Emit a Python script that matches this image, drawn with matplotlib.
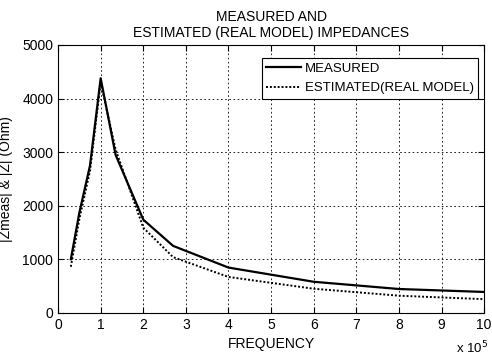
import matplotlib
matplotlib.use("Agg")
import matplotlib.pyplot as plt

plt.rcParams['font.family'] = ['Liberation Sans', 'DejaVu Sans']

freq_meas = [0.3, 0.5, 0.75, 1.0, 1.35, 2.0, 2.7, 4.0, 6.0, 8.0, 10.0]
z_meas = [1000, 1870, 2750, 4380, 2950, 1740, 1250, 845, 580, 445, 390]
freq_est = [0.3, 0.5, 0.75, 1.0, 1.35, 2.0, 2.7, 4.0, 6.0, 8.0, 10.0]
z_est = [860, 1750, 2650, 4300, 3050, 1590, 1040, 670, 450, 320, 255]
xticks = list(range(0, 11))
yticks = [0, 1000, 2000, 3000, 4000, 5000]

fig = plt.figure(figsize=(4.92, 3.6), dpi=100)
ax = fig.add_axes([0.118, 0.131, 0.866, 0.744])
ax.plot(freq_meas, z_meas, color='black', lw=1.6, label='MEASURED')
ax.plot(freq_est, z_est, color='black', lw=1.4, linestyle=(0, (1, 1)), label='ESTIMATED(REAL MODEL)')
ax.set_xlim(0, 10)
ax.set_ylim(0, 5000)
ax.set_xticks(xticks)
ax.set_yticks(yticks)
ax.tick_params(direction='in', labelsize=10, length=4, top=True, right=True)
ax.grid(True, color='black', linestyle=(0, (2, 3)), lw=0.6)
for s in ax.spines.values():
    s.set_linewidth(0.8)
ax.set_xlabel('FREQUENCY', fontsize=10, labelpad=4)
ax.set_ylabel('|Zmeas| & |Z| (Ohm)', fontsize=10)
ax.yaxis.set_label_coords(-0.105, 0.5)
ax.set_title('MEASURED AND\nESTIMATED (REAL MODEL) IMPEDANCES', fontsize=10, linespacing=1.15, pad=6)
fig.text(0.993, 0.02, r'x 10$^5$', fontsize=9.5, ha='right')
leg = ax.legend(loc='upper right', bbox_to_anchor=(0.986, 0.951), fontsize=9.5,
                fancybox=False, framealpha=1, edgecolor='black', borderaxespad=0.0,
                handlelength=2.6, handletextpad=0.3, borderpad=0.35, labelspacing=0.55)
leg.get_frame().set_linewidth(0.8)
fig.savefig('out.png', dpi=100)
